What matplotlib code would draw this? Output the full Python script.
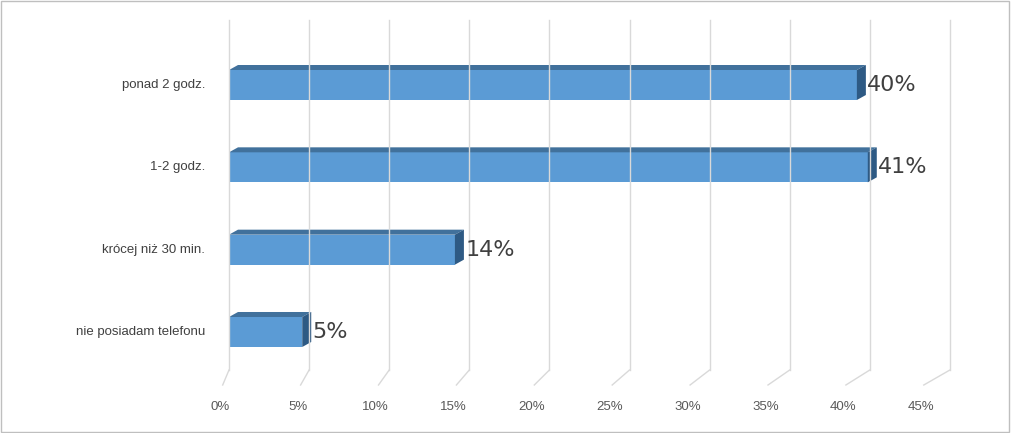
import matplotlib
matplotlib.use("Agg")
import matplotlib.pyplot as plt
from matplotlib.patches import Polygon

categories = ["nie posiadam telefonu", "krócej niż 30 min.", "1-2 godz.", "ponad 2 godz."]
values = [4.7, 14.5, 41.0, 40.3]
labels = ["5%", "14%", "41%", "40%"]
ticks = [0, 5, 10, 15, 20, 25, 30, 35, 40, 45]
tick_labels = [f"{t}%" for t in ticks]

W, H = 1011, 433
px = 15.58          # pixels per percent (front)
py = 82.33          # pixels per category
fig = plt.figure(figsize=(W/100, H/100), dpi=100)
ax = fig.add_axes([0, 0, 1, 1])
ax.set_xlim(-220/px, (W-220)/px)
ax.set_ylim(-(433-332)/py, 3 + 85/py)
ax.axis("off")

# border
ax.add_patch(plt.Rectangle((0.001, 0.002), 0.997, 0.995, transform=ax.transAxes,
                           fill=False, ec="#BFBFBF", lw=1))

y_bottom = -(385-332)/py      # front bottom
y_floor = -(370-332)/py       # back bottom
y_top = 3 + (85-20)/py
x_off = 9/px
for t in ticks:
    xb = (229 + 16.02*t - 220)/px
    xf = t + x_off*0.3
    ax.plot([xf, xb], [y_bottom, y_floor], color="#D9D9D9", lw=1)
    ax.plot([xb, xb], [y_floor, y_top], color="#D9D9D9", lw=1)
    ax.text(t, -(407-332)/py, f"{t}%", ha="center", va="center", fontsize=9.5,
            color="#595959", family="Liberation Sans")

h = 30/py
dx, dy = 9/px, 5/py
for i, (v, lab, cat) in enumerate(zip(values, labels, categories)):
    x0 = x_off
    x1 = x_off + v
    yb, yt = i - h/2, i + h/2
    ax.add_patch(Polygon([(x0, yb), (x1, yb), (x1, yt), (x0, yt)], closed=True,
                         fc="#5B9BD5", ec="none"))
    ax.add_patch(Polygon([(x0, yt), (x1, yt), (x1+dx, yt+dy), (x0+dx, yt+dy)], closed=True,
                         fc="#41719C", ec="none"))
    ax.add_patch(Polygon([(x1, yb), (x1+dx, yb+dy), (x1+dx, yt+dy), (x1, yt)], closed=True,
                         fc="#2E5A84", ec="none"))
    ax.text(x1 + dx + 0.1, i, lab, ha="left", va="center", fontsize=16,
            color="#404040", family="DejaVu Sans")
    ax.text(-15/px, i, cat, ha="right", va="center", fontsize=9.5,
            color="#404040", family="Liberation Sans")

fig.savefig("out.png", dpi=100)
